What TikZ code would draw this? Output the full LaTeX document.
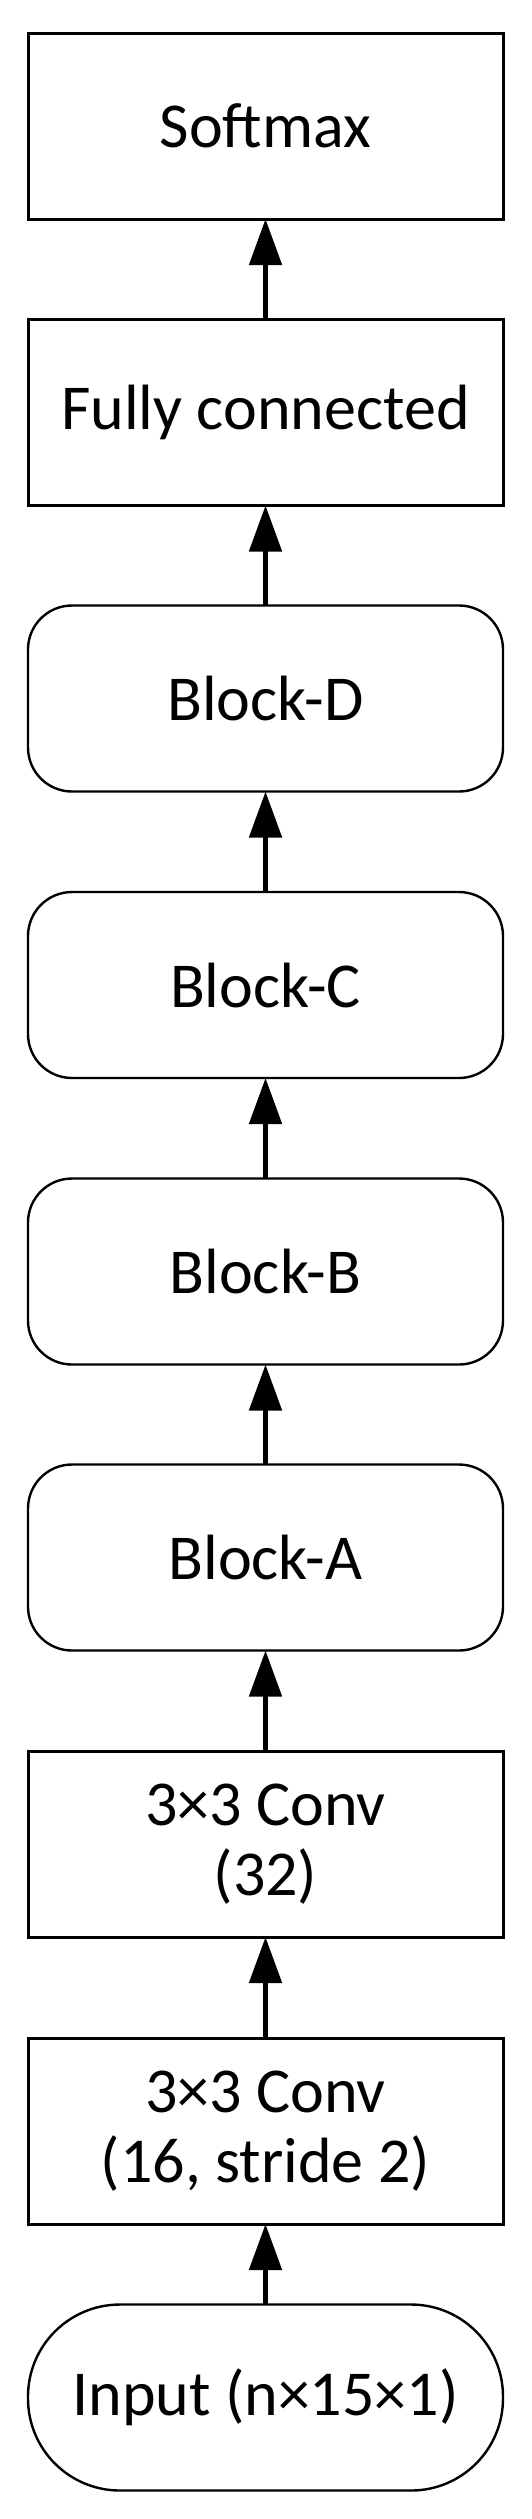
\documentclass[tikz,border=0pt]{standalone}
\usepackage{fontspec}
\setmainfont{Carlito}
\usetikzlibrary{arrows.meta}
\tikzset{
  layer/.style={draw=black, line width=3pt, fill=white, rectangle, inner sep=0pt, outer sep=0pt,
    minimum width=475pt, minimum height=186pt, align=center,
    font=\fontsize{64}{70}\selectfont},
  blockbox/.style={layer, line width=2.4pt, rounded corners=44pt},
  inputbox/.style={layer, line width=2.4pt, rounded corners=92pt},
  flow/.style={line width=5pt, -{Triangle[length=46pt, width=32pt]}, shorten >=0pt}
}
\begin{document}
\begin{tikzpicture}[x=1pt, y=1pt]
  \useasboundingbox (0,0) rectangle (531,-2519);
  \node[layer]     (soft)  at (265.5,-126)    {Softmax};
  \node[layer]     (fc)    at (265.5,-412.5)  {Fully connected};
  \node[blockbox]  (bd)    at (265.5,-698.5)  {Block-D};
  \node[blockbox]  (bc)    at (265.5,-985)    {Block-C};
  \node[blockbox]  (bb)    at (265.5,-1271.5) {Block-B};
  \node[blockbox]  (ba)    at (265.5,-1557.5) {Block-A};
  \node[layer]     (c32)   at (265.5,-1844)   {3×3 Conv\\(32)};
  \node[layer]     (c16)   at (265.5,-2131)   {3×3 Conv\\(16, stride 2)};
  \node[inputbox]  (inp)   at (265.5,-2397.5) {Input (n×15×1)};
  \draw[flow] (inp.north) -- (c16.south);
  \draw[flow] (c16.north) -- (c32.south);
  \draw[flow] (c32.north) -- (ba.south);
  \draw[flow] (ba.north) -- (bb.south);
  \draw[flow] (bb.north) -- (bc.south);
  \draw[flow] (bc.north) -- (bd.south);
  \draw[flow] (bd.north) -- (fc.south);
  \draw[flow] (fc.north) -- (soft.south);
\end{tikzpicture}
\end{document}
